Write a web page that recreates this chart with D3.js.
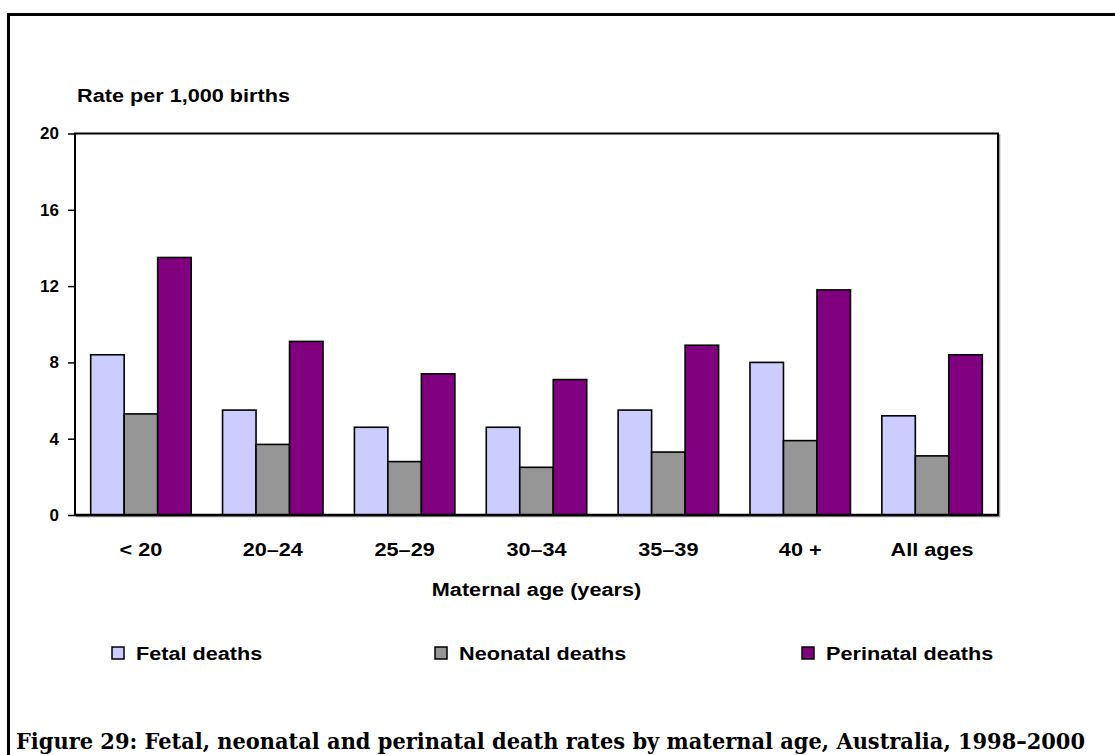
<!DOCTYPE html>
<html>
<head>
<meta charset="utf-8">
<script src="https://cdn.jsdelivr.net/npm/d3@7"></script>
<style>
  body { margin: 0; background: #fff; }
  text { font-weight: bold; fill: #000; }
</style>
</head>
<body>
<div id="chart"></div>
<script>
// chart values
var categories = ["< 20", "20–24", "25–29", "30–34", "35–39", "40 +", "All ages"];
var seriesNames = ["Fetal deaths", "Neonatal deaths", "Perinatal deaths"];
var fetal = [8.4, 5.5, 4.6, 4.6, 5.5, 8.0, 5.2];
var neonatal = [5.3, 3.7, 2.8, 2.5, 3.3, 3.9, 3.1];
var perinatal = [13.5, 9.1, 7.4, 7.1, 8.9, 11.8, 8.4];
var yTicks = [0, 4, 8, 12, 16, 20];

var colors = ["#ccccff", "#969696", "#800080"];
var seriesValues = [fetal, neonatal, perinatal];
var sans = "Arial, 'Liberation Sans', sans-serif";

// rows for the grouped bars
var rows = categories.map(function(c, i) {
  return { cat: c, vals: seriesNames.map(function(s, j) { return { key: s, value: seriesValues[j][i] }; }) };
});

var W = 1115, H = 755;
var plot = { left: 75, right: 998, top: 133.5, bottom: 515 };
var sx = 1.14; // text in the original is a bit wide

var svg = d3.select("#chart")
  .append("svg")
    .attr("width", W)
    .attr("height", H);

// outer frame (left and top only are visible)
svg.append("line")
  .attr("x1", 8.5).attr("x2", 8.5).attr("y1", 13).attr("y2", H)
  .attr("stroke", "#000").attr("stroke-width", 3);
svg.append("line")
  .attr("x1", 7).attr("x2", W).attr("y1", 14.5).attr("y2", 14.5)
  .attr("stroke", "#000").attr("stroke-width", 3);

// scales
var x0 = d3.scaleBand()
  .domain(categories)
  .range([plot.left, plot.right])
  .paddingInner(0.238)
  .paddingOuter(0.119);

var x1 = d3.scaleBand()
  .domain(seriesNames)
  .range([0, x0.bandwidth()]);

var y = d3.scaleLinear()
  .domain([0, 20])
  .range([plot.bottom, plot.top]);

// plot box with a faint shadow
svg.append("rect")
  .attr("x", plot.left + 1.5).attr("y", plot.top + 1.5)
  .attr("width", plot.right - plot.left).attr("height", plot.bottom - plot.top)
  .attr("fill", "none").attr("stroke", "#999").attr("stroke-width", 1.5);
svg.append("rect")
  .attr("x", plot.left).attr("y", plot.top)
  .attr("width", plot.right - plot.left).attr("height", plot.bottom - plot.top)
  .attr("fill", "#fff").attr("stroke", "#000").attr("stroke-width", 2);

// bars
var groups = svg.append("g").selectAll("g")
  .data(rows)
  .enter().append("g")
    .attr("transform", function(d) { return "translate(" + x0(d.cat) + ",0)"; });

groups.selectAll("rect")
  .data(function(d) { return d.vals; })
  .enter().append("rect")
    .attr("x", function(d) { return x1(d.key); })
    .attr("y", function(d) { return y(d.value); })
    .attr("width", x1.bandwidth())
    .attr("height", function(d) { return y(0) - y(d.value); })
    .attr("fill", function(d, i) { return colors[i]; })
    .attr("stroke", "#000")
    .attr("stroke-width", 1.6);

// zero line on top of the bars
svg.append("line")
  .attr("x1", plot.left).attr("x2", plot.right)
  .attr("y1", y(0)).attr("y2", y(0))
  .attr("stroke", "#000").attr("stroke-width", 2.5);

// y axis
var yAxis = svg.append("g")
  .attr("transform", "translate(" + plot.left + ",0)")
  .call(d3.axisLeft(y).tickValues(yTicks).tickSize(7).tickPadding(9));
yAxis.select(".domain").remove();
yAxis.selectAll("line").attr("stroke", "#000").attr("stroke-width", 1.5);
yAxis.selectAll("text")
  .style("font-family", sans)
  .attr("font-size", 17);

// x axis (labels only)
var xAxis = svg.append("g")
  .attr("transform", "translate(0," + plot.bottom + ")")
  .call(d3.axisBottom(x0).tickSize(0).tickPadding(28));
xAxis.select(".domain").remove();
xAxis.selectAll("text")
  .style("font-family", sans)
  .attr("font-size", 19)
  .attr("transform", "scale(" + sx + ",1)");

// helper for stretched text
function label(txt, x, yy, size, anchor) {
  return svg.append("text")
    .attr("transform", "translate(" + x + "," + yy + ") scale(" + sx + ",1)")
    .style("font-family", sans)
    .attr("font-size", size)
    .attr("text-anchor", anchor || "start")
    .text(txt);
}

label("Rate per 1,000 births", 77, 102, 19);
label("Maternal age (years)", (plot.left + plot.right) / 2, 596, 19, "middle");

// legend
var legendX = [112, 435, 802];
seriesNames.forEach(function(s, i) {
  svg.append("rect")
    .attr("x", legendX[i]).attr("y", 647)
    .attr("width", 12).attr("height", 12)
    .attr("fill", colors[i])
    .attr("stroke", "#000").attr("stroke-width", 1.5);
  label(s, legendX[i] + 24, 660, 19);
});

// figure caption
svg.append("text")
  .attr("x", 16).attr("y", 749)
  .style("font-family", "'DejaVu Serif', 'Liberation Serif', serif")
  .attr("font-size", 21.5)
  .attr("textLength", 1069)
  .attr("lengthAdjust", "spacingAndGlyphs")
  .text("Figure 29: Fetal, neonatal and perinatal death rates by maternal age, Australia, 1998–2000");
</script>
</body>
</html>
